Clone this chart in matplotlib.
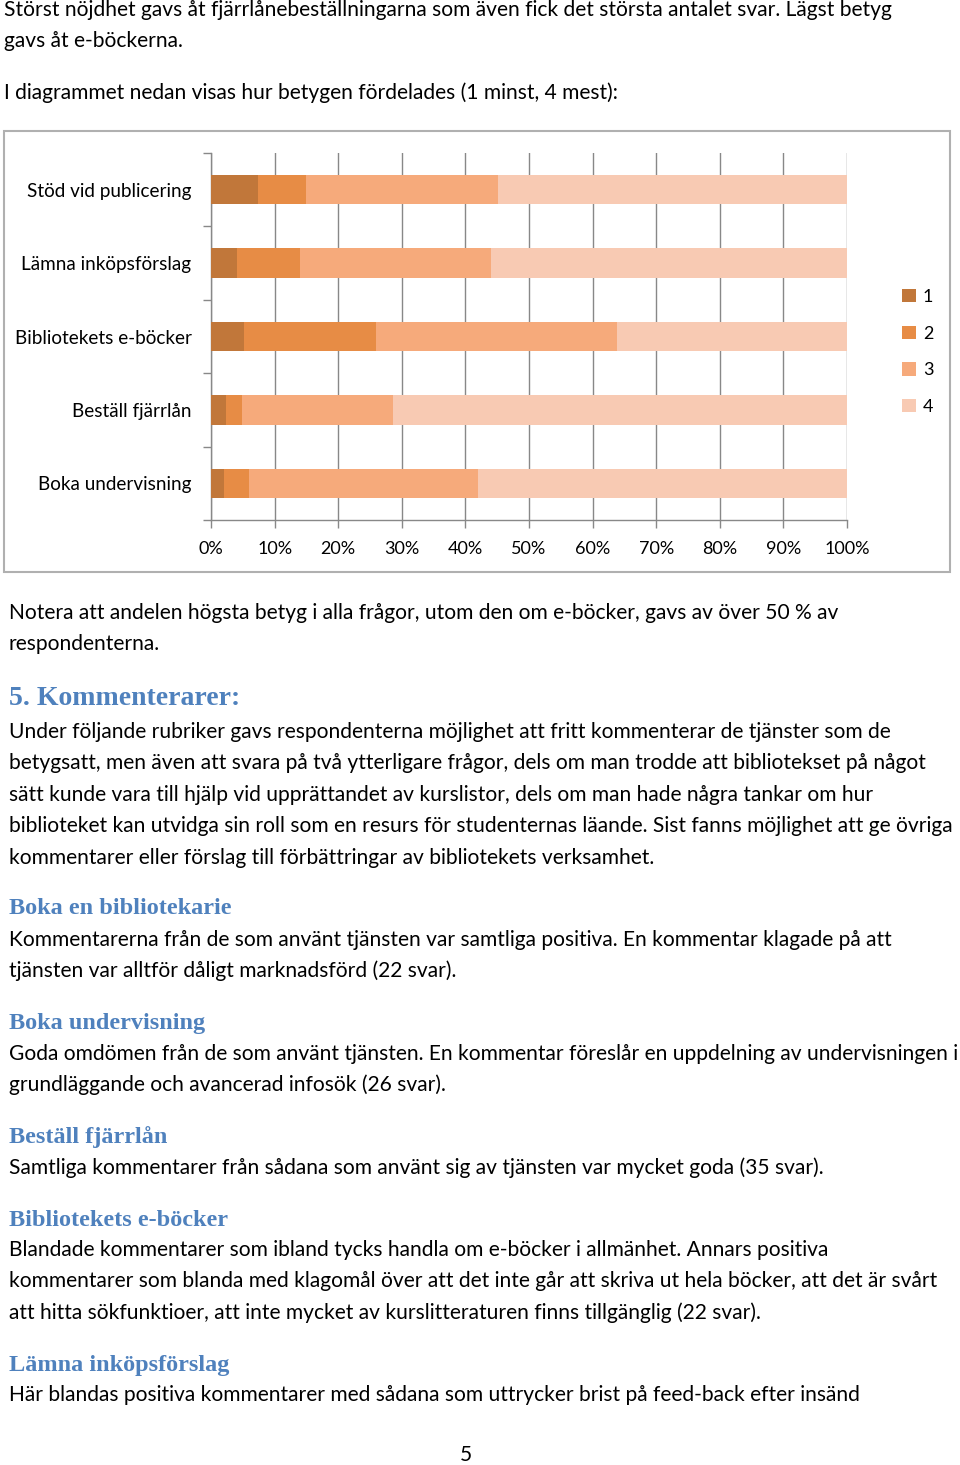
import matplotlib
matplotlib.use("Agg")
import matplotlib.pyplot as plt
from matplotlib.patches import Rectangle, Patch
import numpy as np

# betygsfördelning i procent (1 minst, 4 mest)
categories = ["Stöd vid publicering", "Lämna inköpsförslag", "Bibliotekets e-böcker",
              "Beställ fjärrlån", "Boka undervisning"]
grade1 = [7.4, 4.1, 5.2, 2.4, 2.0]
grade2 = [7.6, 9.9, 20.7, 2.4, 4.0]
grade3 = [30.1, 30.1, 38.0, 23.8, 36.0]
grade4 = [54.9, 55.9, 36.1, 71.4, 58.0]
grades = ["1", "2", "3", "4"]
colors = ["#C1773A", "#E78C45", "#F6AA7B", "#F8CAB3"]
xticks = [0, 10, 20, 30, 40, 50, 60, 70, 80, 90, 100]

W, H = 960, 1465
BODY = "Lato"
HEAD = "Liberation Serif"
blue = "#4F81BD"
FS = 15.1

fig = plt.figure(figsize=(W / 100, H / 100), dpi=100)


def fy(py):
    return 1 - py / H


def body(py, s, x=9, size=FS, **kw):
    fig.text(x / W, fy(py), s, fontsize=size, family=BODY, va="center", ha="left", **kw)


def head(py, s, size=17.5):
    fig.text(9 / W, fy(py), s, fontsize=size, family=HEAD, weight="bold",
             color=blue, va="center", ha="left")


body(10, "Störst nöjdhet gavs åt fjärrlånebeställningarna som även fick det största antalet svar. Lägst betyg", x=4)
body(41, "gavs åt e-böckerna.", x=4)
body(93, "I diagrammet nedan visas hur betygen fördelades (1 minst, 4 mest):", x=4)

# diagramram
fig.patches.append(Rectangle((4 / W, fy(572)), 946 / W, 441 / H, transform=fig.transFigure,
                             fill=False, edgecolor="#B0B0B0", lw=1.5))

ax = fig.add_axes([211 / W, fy(520), 636 / W, 367 / H])
ypos = np.arange(len(categories))
left = np.zeros(len(categories))
for vals, c, g in zip([grade1, grade2, grade3, grade4], colors, grades):
    ax.barh(ypos, vals, left=left, height=0.4, color=c, label=g, zorder=3)
    left += np.array(vals)

ax.set_xlim(0, 100)
ax.set_ylim(len(categories) - 0.5, -0.5)
ax.set_xticks(xticks)
ax.set_xticklabels([f"{t}%" for t in xticks], family=BODY, fontsize=13)
ax.set_yticks(ypos)
ax.set_yticklabels(categories, family=BODY, fontsize=13.6)
ax.set_yticks(np.arange(len(categories) + 1) - 0.5, minor=True)
ax.tick_params(axis="y", which="major", length=0, pad=14)
ax.tick_params(axis="y", which="minor", length=6, color="#888888", width=1)
ax.tick_params(axis="x", length=6, color="#888888", width=1, pad=9)
ax.grid(axis="x", color="#888888", lw=1, zorder=0)
for sp in ["top", "right"]:
    ax.spines[sp].set_visible(False)
for sp in ["left", "bottom"]:
    ax.spines[sp].set_color("#888888")
    ax.spines[sp].set_linewidth(1)

handles = [Patch(facecolor=c, edgecolor="none") for c in colors]
fig.legend(handles, grades, loc="center left", bbox_to_anchor=(886 / W, fy(352)),
           frameon=False, handlelength=0.75, handleheight=0.75, handletextpad=0.4,
           labelspacing=1.15, prop={"family": BODY, "size": 13})

body(613, "Notera att andelen högsta betyg i alla frågor, utom den om e-böcker, gavs av över 50 % av")
body(644, "respondenterna.")
head(698, "5. Kommenterarer:", size=20)
body(732, "Under följande rubriker gavs respondenterna möjlighet att fritt kommenterar de tjänster som de")
body(763, "betygsatt, men även att svara på två ytterligare frågor, dels om man trodde att bibliotekset på något")
body(795, "sätt kunde vara till hjälp vid upprättandet av kurslistor, dels om man hade några tankar om hur")
body(826, "biblioteket kan utvidga sin roll som en resurs för studenternas läande. Sist fanns möjlighet att ge övriga")
body(858, "kommentarer eller förslag till förbättringar av bibliotekets verksamhet.")
head(909, "Boka en bibliotekarie")
body(940, "Kommentarerna från de som använt tjänsten var samtliga positiva. En kommentar klagade på att")
body(971, "tjänsten var alltför dåligt marknadsförd (22 svar).")
head(1023, "Boka undervisning")
body(1054, "Goda omdömen från de som använt tjänsten. En kommentar föreslår en uppdelning av undervisningen i")
body(1085, "grundläggande och avancerad infosök (26 svar).")
head(1137, "Beställ fjärrlån")
body(1168, "Samtliga kommentarer från sådana som använt sig av tjänsten var mycket goda (35 svar).")
head(1220, "Bibliotekets e-böcker")
body(1250, "Blandade kommentarer som ibland tycks handla om e-böcker i allmänhet. Annars positiva")
body(1281, "kommentarer som blanda med klagomål över att det inte går att skriva ut hela böcker, att det är svårt")
body(1313, "att hitta sökfunktioer, att inte mycket av kurslitteraturen finns tillgänglig (22 svar).")
head(1365, "Lämna inköpsförslag")
body(1395, "Här blandas positiva kommentarer med sådana som uttrycker brist på feed-back efter insänd")
fig.text(466 / W, fy(1455), "5", fontsize=FS, family=BODY, ha="center", va="center")

fig.savefig("out.png", dpi=100)
